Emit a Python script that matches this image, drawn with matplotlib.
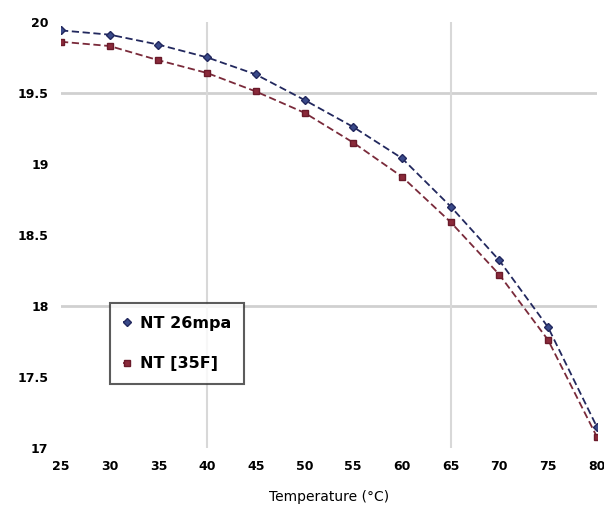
import matplotlib
matplotlib.use("Agg")
import matplotlib.pyplot as plt

temps = [25, 30, 35, 40, 45, 50, 55, 60, 65, 70, 75, 80]
nt_blue = [19.94, 19.91, 19.84, 19.75, 19.63, 19.45, 19.26, 19.04, 18.70, 18.32, 17.85, 17.15]
nt_red = [19.86, 19.83, 19.73, 19.64, 19.51, 19.36, 19.15, 18.91, 18.59, 18.22, 17.76, 17.08]
label_blue = "NT 26mpa"
label_red = "NT [35F]"
xlabel = "Temperature (°C)"
yticks = [17, 17.5, 18, 18.5, 19, 19.5, 20]
ytick_labels = ["17", "17.5", "18", "18.5", "19", "19.5", "20"]

fig = plt.figure(figsize=(6.04, 5.09), dpi=100)
ax = fig.add_axes([0.101, 0.12, 0.887, 0.837])

for v in [19.5, 18]:
    ax.axhline(v, color="#d0d0d0", lw=2, zorder=0)
for v in [40, 65]:
    ax.axvline(v, color="#d8d8d8", lw=1.5, zorder=0)

ax.plot(temps, nt_blue, ls=(0, (4, 2)), color="#22285e", lw=1.3,
        marker="D", ms=4, mfc="#3a4a8a", mec="#22285e", label=label_blue)
ax.plot(temps, nt_red, ls=(0, (4, 2)), color="#7a2a3a", lw=1.3,
        marker="s", ms=5, mfc="#8a2a3a", mec="#6a1a2a", label=label_red)

ax.set_xlim(25, 80)
ax.set_ylim(17, 20)
ax.set_xticks(temps)
ax.set_yticks(yticks)
ax.set_yticklabels(ytick_labels)
ax.tick_params(length=0, labelsize=9, pad=9)
for lbl in ax.get_xticklabels() + ax.get_yticklabels():
    lbl.set_fontweight("bold")
for s in ax.spines.values():
    s.set_visible(False)
ax.set_xlabel(xlabel, fontsize=10, labelpad=12)

leg = ax.legend(loc="upper left", bbox_to_anchor=(0.091, 0.34), frameon=True,
                fancybox=False, edgecolor="#333333", fontsize=11.5,
                handlelength=0.5, handletextpad=0.6, borderpad=0.8,
                borderaxespad=0, labelspacing=1.6)
leg.get_frame().set_linewidth(1.5)
for t in leg.get_texts():
    t.set_fontweight("bold")

fig.savefig("out.png", dpi=100)
